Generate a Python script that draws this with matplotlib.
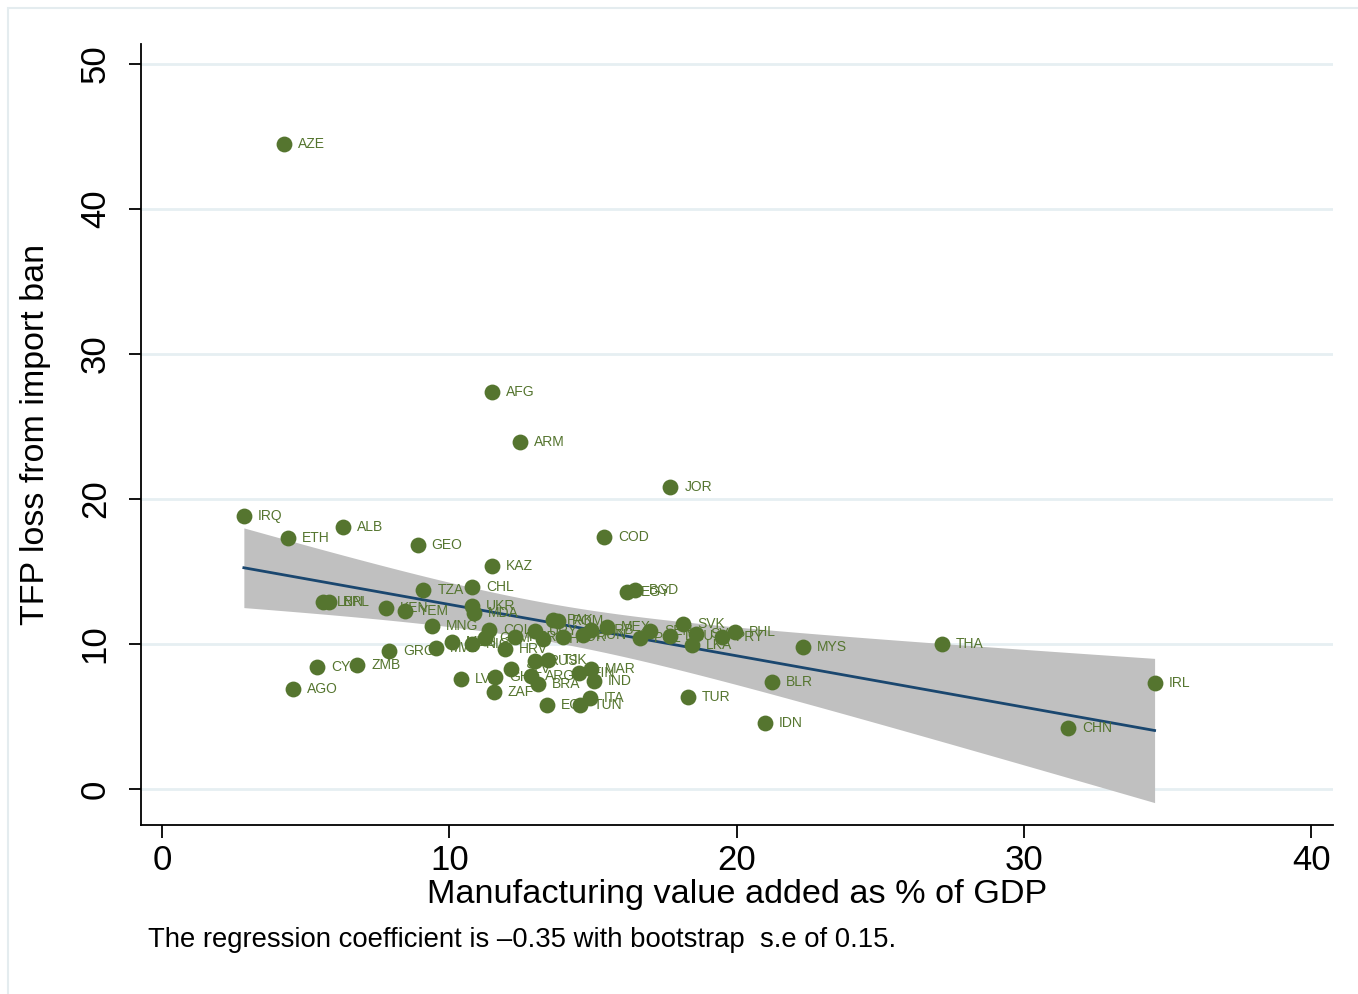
import numpy as np
import matplotlib
matplotlib.use("Agg")
import matplotlib.pyplot as plt
from matplotlib.patches import Rectangle

# country codes, manufacturing share of GDP (%) and TFP loss from an import ban
codes = ["AZE", "AFG", "ARM", "JOR", "IRQ", "ETH", "ALB", "GEO", "COD", "KAZ",
         "CHL", "TZA", "EGY", "BGD", "LBN", "NPL", "KEN", "YEM", "UKR", "MDA",
         "MNG", "PAK", "ROM", "COL", "GRC", "CYP", "ZMB", "AGO", "MWI", "MUS",
         "NIC", "GTM", "HRV", "PER", "URY", "BIH", "KOR", "HUN", "SRB", "MEX",
         "POL", "SEN", "DEU", "SVK", "SVN", "LKA", "PRY", "PHL", "MYS", "THA",
         "IRL", "CHN", "IDN", "BLR", "TUR", "LVA", "GHA", "ZAF", "SLV", "RUS",
         "TJK", "ARG", "BRA", "FIN", "MAR", "IND", "ITA", "TUN", "ECU"]
manuf = [4.25, 11.5, 12.45, 17.7, 2.85, 4.4, 6.3, 8.9, 15.4, 11.5,
         10.8, 9.1, 16.2, 16.45, 5.6, 5.8, 7.8, 8.45, 10.8, 10.85,
         9.4, 13.6, 13.8, 11.4, 7.9, 5.4, 6.8, 4.55, 9.55, 10.1,
         10.8, 11.25, 11.95, 12.3, 13.0, 13.25, 13.95, 14.65, 14.95, 15.5,
         16.65, 17.0, 17.7, 18.15, 18.6, 18.45, 19.5, 19.95, 22.3, 27.15,
         34.55, 31.55, 21.0, 21.25, 18.3, 10.4, 11.6, 11.55, 12.15, 13.0,
         13.45, 12.85, 13.1, 14.5, 14.95, 15.05, 14.9, 14.55, 13.4]
tfp_loss = [44.5, 27.4, 23.9, 20.8, 18.8, 17.3, 18.1, 16.8, 17.4, 15.4,
            13.9, 13.7, 13.6, 13.7, 12.9, 12.9, 12.5, 12.3, 12.6, 12.15,
            11.25, 11.65, 11.6, 11.0, 9.5, 8.4, 8.55, 6.9, 9.7, 10.15,
            10.0, 10.4, 9.65, 10.5, 10.9, 10.35, 10.5, 10.6, 10.95, 11.15,
            10.4, 10.9, 10.55, 11.35, 10.7, 9.95, 10.5, 10.8, 9.8, 10.0,
            7.3, 4.2, 4.55, 7.4, 6.35, 7.6, 7.75, 6.7, 8.3, 8.8,
            8.9, 7.8, 7.25, 8.0, 8.25, 7.45, 6.3, 5.8, 5.8]

x = np.array(manuf)
y = np.array(tfp_loss)

# OLS fit with 95% confidence band for the mean
n = len(x)
b, a = np.polyfit(x, y, 1)
resid = y - (a + b * x)
s = np.sqrt(np.sum(resid ** 2) / (n - 2))
sxx = np.sum((x - x.mean()) ** 2)
xf = np.linspace(x.min(), x.max(), 200)
yf = a + b * xf
se = s * np.sqrt(1 / n + (xf - x.mean()) ** 2 / sxx)
tcrit = 1.997

plt.rcParams['font.family'] = ['Liberation Sans', 'DejaVu Sans']
green = '#55752f'
navy = '#1a476f'

fig = plt.figure(figsize=(13.58, 9.94), dpi=100)
fig.patches.append(Rectangle((8 / 1358, -0.1), 1.0, 1.1 - 8 / 994, transform=fig.transFigure,
                             fill=False, edgecolor='#e4ecef', lw=1.5, zorder=0))
ax = fig.add_axes([141 / 1358, 1 - 825 / 994, (1333 - 141) / 1358, (825 - 44) / 994])

ax.fill_between(xf, yf - tcrit * se, yf + tcrit * se, color='#c0c0c0', lw=0, zorder=2)
ax.plot(xf, yf, color=navy, lw=2, zorder=3)
ax.scatter(x, y, s=130, color=green, zorder=4, linewidths=0)
for c, xi, yi in zip(codes, x, y):
    ax.annotate(c, (xi, yi), xytext=(10, 0), textcoords='offset points',
                va='center', ha='left', fontsize=10, color=green, zorder=5)

ax.set_xlim(-0.73, 40.76)
ax.set_ylim(-2.48, 51.38)
ax.set_xticks([0, 10, 20, 30, 40])
ax.set_yticks([0, 10, 20, 30, 40, 50])
ax.grid(axis='y', color='#e6eff2', lw=2, zorder=1)
ax.set_axisbelow(True)
for side in ['top', 'right']:
    ax.spines[side].set_visible(False)
for side in ['left', 'bottom']:
    ax.spines[side].set_linewidth(1.3)
ax.tick_params(axis='both', direction='out', length=9, width=1.3, labelsize=25)
ax.tick_params(axis='x', pad=5)
ax.tick_params(axis='y', pad=12)
for lab in ax.get_yticklabels():
    lab.set_rotation(90)
    lab.set_va('center')

ax.set_xlabel("Manufacturing value added as % of GDP", fontsize=24.7, labelpad=1)
ax.set_ylabel("TFP loss from import ban", fontsize=24.5, labelpad=20)

fig.text(148 / 1358, 1 - 940 / 994, "The regression coefficient is \u20130.35 with bootstrap  s.e of 0.15.",
         fontsize=19.8, va='center', ha='left')

fig.savefig('out.png', dpi=100)
